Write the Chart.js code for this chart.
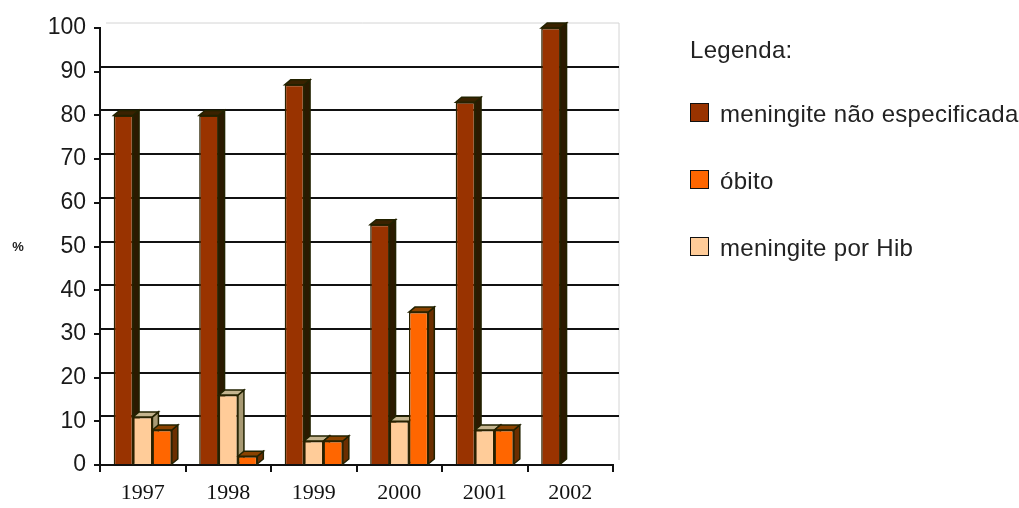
<!DOCTYPE html>
<html>
<head>
<meta charset="utf-8">
<script src="https://cdn.jsdelivr.net/npm/chart.js@4.4.1/dist/chart.umd.min.js"></script>
<style>
  html, body { margin: 0; padding: 0; background: #fff; }
  #wrap { width: 1019px; height: 508px; position: relative; }
</style>
</head>
<body>
<div id="wrap"><canvas id="chart"></canvas></div>
<script>
const years = ["1997", "1998", "1999", "2000", "2001", "2002"];
const naoEspecificada = [80, 80, 87, 55, 83, 100];
const hib = [11, 16, 5.5, 10, 8, null];
const obito = [8, 2, 5.5, 35, 8, null];

const seriesNames = ["meningite não especificada", "meningite por Hib", "óbito"];
const fillColors = ["#993300", "#ffcc99", "#ff6600"];
const sideColors = ["#2b1a00", "#a89a74", "#6b2e00"];
const topColors = ["#3a2200", "#c4b48e", "#8a4200"];
const legendOrder = [0, 2, 1];

const depthX = 6;
const depthY = 5;

// back wall, gridlines and the 3d faces of the bars, drawn before the fronts
const barDepth = {
  id: "barDepth",
  beforeDatasetsDraw(chart) {
    const ctx = chart.ctx;
    const area = chart.chartArea;
    const yScale = chart.scales.y;
    ctx.save();

    ctx.strokeStyle = "#d4d4d4";
    ctx.lineWidth = 1;
    const wallTop = yScale.getPixelForValue(100) - depthY;
    ctx.beginPath();
    ctx.moveTo(area.left + depthX, wallTop);
    ctx.lineTo(area.right + depthX, wallTop);
    ctx.lineTo(area.right + depthX, area.bottom - depthY);
    ctx.stroke();

    ctx.strokeStyle = "#111";
    ctx.lineWidth = 2;
    for (let v = 10; v < 100; v += 10) {
      const py = Math.round(yScale.getPixelForValue(v) - depthY);
      ctx.beginPath();
      ctx.moveTo(area.left, py);
      ctx.lineTo(area.right + depthX, py);
      ctx.stroke();
    }

    ctx.lineWidth = 1.5;
    ctx.strokeStyle = "#222200";
    chart.data.datasets.forEach((ds, i) => {
      const meta = chart.getDatasetMeta(i);
      meta.data.forEach((bar, j) => {
        if (ds.data[j] == null) return;
        const { x, y, base, width } = bar.getProps(["x", "y", "base", "width"], true);
        const l = x - width / 2;
        const r = x + width / 2;

        ctx.fillStyle = sideColors[i];
        ctx.beginPath();
        ctx.moveTo(r, y);
        ctx.lineTo(r + depthX, y - depthY);
        ctx.lineTo(r + depthX, base - depthY);
        ctx.lineTo(r, base);
        ctx.closePath();
        ctx.fill();
        ctx.stroke();

        ctx.fillStyle = topColors[i];
        ctx.beginPath();
        ctx.moveTo(l, y);
        ctx.lineTo(l + depthX, y - depthY);
        ctx.lineTo(r + depthX, y - depthY);
        ctx.lineTo(r, y);
        ctx.closePath();
        ctx.fill();
        ctx.stroke();
      });
    });
    ctx.restore();
  },
  afterDraw(chart) {
    const ctx = chart.ctx;
    const area = chart.chartArea;
    ctx.save();

    ctx.fillStyle = "#222";
    ctx.font = "bold 13px 'Liberation Sans'";
    ctx.textAlign = "center";
    ctx.textBaseline = "middle";
    ctx.fillText("%", 18, (area.top + area.bottom) / 2 + 1);

    // legend
    const lx = area.right + 77;
    ctx.textAlign = "left";
    ctx.font = "24px 'Liberation Sans'";
    ctx.letterSpacing = "0.3px";
    ctx.fillStyle = "#222";
    ctx.fillText("Legenda:", lx, 51);
    legendOrder.forEach((di, k) => {
      const yc = 113 + k * 67;
      ctx.fillStyle = fillColors[di];
      ctx.fillRect(lx, yc - 10, 19, 19);
      ctx.strokeStyle = "#111";
      ctx.lineWidth = 1;
      ctx.strokeRect(lx + 0.5, yc - 9.5, 18, 18);
      ctx.fillStyle = "#222";
      ctx.fillText(seriesNames[di], lx + 30, yc + 2);
    });
    ctx.restore();
  }
};

const ctx = document.getElementById("chart").getContext("2d");

new Chart(ctx, {
  type: "bar",
  data: {
    labels: years,
    datasets: [
      { label: seriesNames[0], data: naoEspecificada },
      { label: seriesNames[1], data: hib },
      { label: seriesNames[2], data: obito }
    ].map((ds, i) => ({
      ...ds,
      backgroundColor: fillColors[i],
      borderColor: "#2b2200",
      borderWidth: 1.5,
      categoryPercentage: 0.68,
      barPercentage: 1.0
    }))
  },
  options: {
    responsive: true,
    maintainAspectRatio: false,
    animation: false,
    layout: { padding: { top: 28, right: 406, bottom: 0, left: 0 } },
    plugins: {
      legend: { display: false },
      tooltip: { enabled: false }
    },
    scales: {
      x: {
        grid: { drawOnChartArea: false, color: "#111", lineWidth: 2, tickLength: 7, offset: true },
        border: { color: "#111", width: 2 },
        ticks: { color: "#111", padding: 8, font: { family: "'Liberation Serif'", size: 22 } },
        afterFit(scale) { scale.height = 43; }
      },
      y: {
        min: 0,
        max: 100,
        ticks: { stepSize: 10, color: "#1a1a1a", padding: 8, font: { family: "'Liberation Sans'", size: 23 } },
        grid: { drawOnChartArea: false, color: "#111", lineWidth: 2, tickLength: 6 },
        border: { color: "#111", width: 2 },
        afterFit(scale) { scale.width = 100; }
      }
    }
  },
  plugins: [barDepth]
});
</script>
</body>
</html>
